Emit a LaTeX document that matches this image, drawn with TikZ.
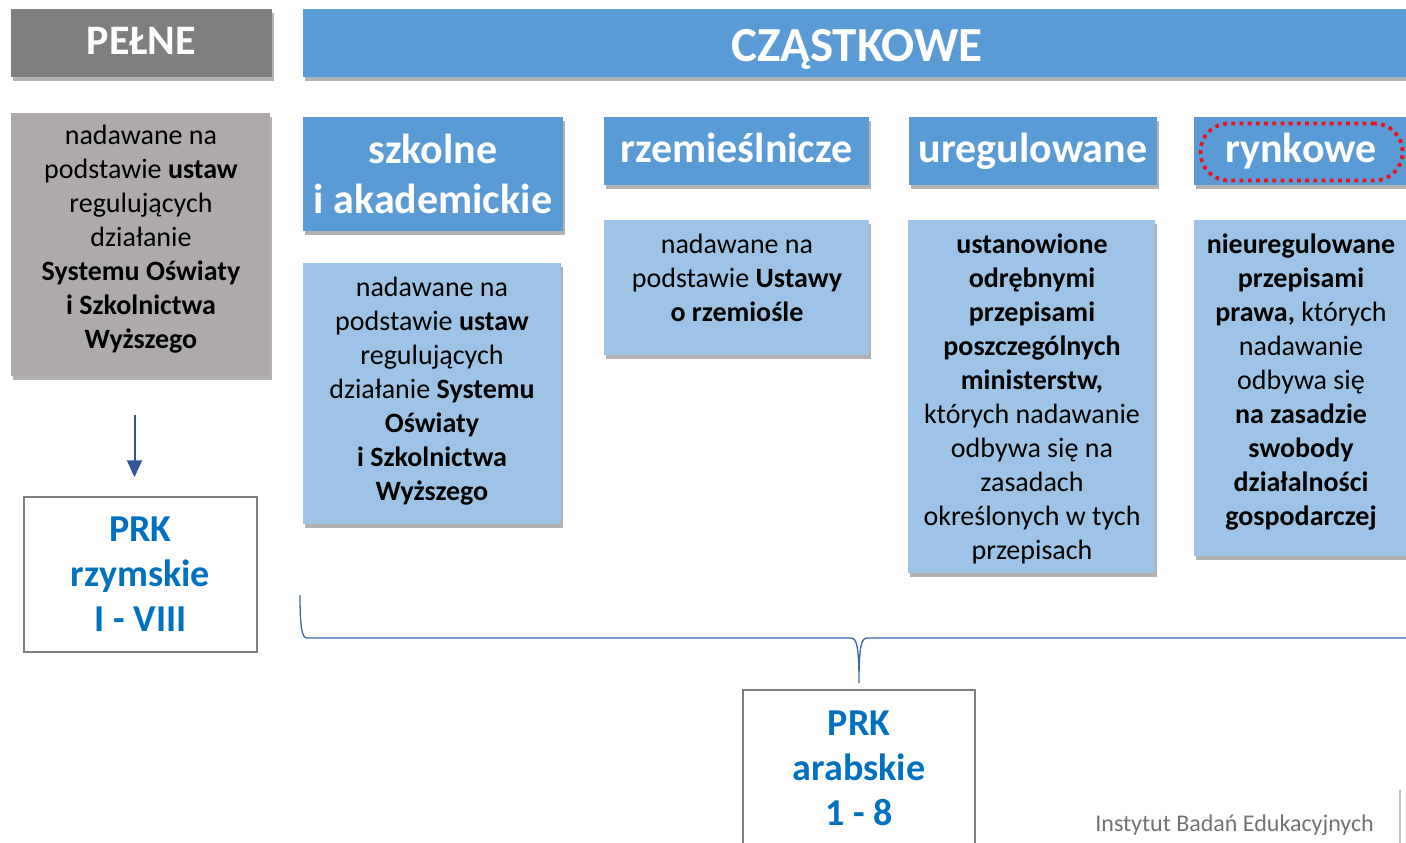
\documentclass[tikz,border=0pt]{standalone}
\usepackage{fontspec}
\setmainfont{Carlito}
\usetikzlibrary{shadows,arrows.meta,calc}
\definecolor{hdrblue}{HTML}{5B9BD5}
\definecolor{bodyblue}{HTML}{9DC3E6}
\definecolor{hdrgray}{HTML}{7F7F7F}
\definecolor{bodygray}{HTML}{AEAAAA}
\definecolor{prkblue}{HTML}{0070C0}
\definecolor{arrblue}{HTML}{2F5597}
\definecolor{bracecol}{HTML}{3F64AE}
\definecolor{redring}{HTML}{E8141B}
\definecolor{footgray}{HTML}{767171}
\tikzset{
  shad/.style={drop shadow={shadow xshift=2pt, shadow yshift=-4pt, opacity=0.3, fill=black}},
  box/.style={inner sep=0pt, outer sep=0pt, shad},
  hdr/.style={box, fill=hdrblue, text=white, font=\bfseries\fontsize{42}{50}\selectfont, align=center},
  onehdr/.style={hdr, text height=32pt, text depth=9pt},
  ghdr/.style={box, fill=hdrgray, text=white, font=\bfseries\fontsize{42}{50}\selectfont, text height=32pt, text depth=9pt},
  bbody/.style={box, fill=bodyblue},
  gbody/.style={box, fill=bodygray},
  btxt/.style={inner sep=0pt, align=center, font=\fontsize{28}{34}\selectfont},
  prkbox/.style={draw=hdrgray, line width=1.5pt, fill=white, inner sep=0pt, align=center,
     text=prkblue, font=\bfseries\fontsize{38}{45}\selectfont},
  ring/.style={draw=redring, line width=3.8pt, dash pattern=on 3.8pt off 4.4pt, rounded corners=28pt, inner sep=0pt},
  arr/.style={draw=arrblue, line width=2pt, -{Triangle[width=15pt,length=17pt]}},
  bracestyle/.style={draw=bracecol, line width=1.3pt},
}
\begin{document}
\begin{tikzpicture}[x=1pt,y=-1pt]
\useasboundingbox (0,0) rectangle (1406,843);
\clip (0,0) rectangle (1406,843);
% headers
\node[ghdr, minimum width=261pt, minimum height=68pt] (pel) at (141.5,43) {PEŁNE};
\node[hdr, minimum width=1108pt, minimum height=68pt, font=\bfseries\fontsize{49}{56}\selectfont, text height=44pt, text depth=6pt] (czas) at (857,43) {CZĄSTKOWE};
\node[hdr, minimum width=260pt, minimum height=114pt] (szk) at (433,174) {szkolne\\i akademickie};
\node[onehdr, minimum width=265pt, minimum height=68pt] (rze) at (736.5,151) {rzemieślnicze};
\node[onehdr, minimum width=248pt, minimum height=68pt] (ure) at (1033,151) {uregulowane};
\node[onehdr, minimum width=214pt, minimum height=68pt] (ryn) at (1301,151) {rynkowe};
\node[ring, minimum width=202pt, minimum height=57pt] (ringn) at (1301.5,152) {};
% bodies
\node[gbody, minimum width=259pt, minimum height=263pt] (pb) at (140.5,244.5) {};
\node[btxt] (pbt) at (141,239) {nadawane na\\podstawie \textbf{ustaw}\\regulujących\\działanie\\\textbf{Systemu Oświaty}\\\textbf{i Szkolnictwa}\\\textbf{Wyższego}};
\node[bbody, minimum width=258pt, minimum height=261pt] (sb) at (432,393.5) {};
\node[btxt] (sbt) at (432,391) {nadawane na\\podstawie \textbf{ustaw}\\regulujących\\działanie \textbf{Systemu}\\\textbf{Oświaty}\\\textbf{i Szkolnictwa}\\\textbf{Wyższego}};
\node[bbody, minimum width=265pt, minimum height=135pt] (rb) at (736.5,287.5) {};
\node[btxt] (rbt) at (737,278) {nadawane na\\podstawie \textbf{Ustawy}\\\textbf{o rzemiośle}};
\node[bbody, minimum width=247pt, minimum height=353pt] (ub) at (1031.5,396.5) {};
\node[btxt] (ubt) at (1032,399) {\textbf{ustanowione}\\\textbf{odrębnymi}\\\textbf{przepisami}\\\textbf{poszczególnych}\\\textbf{ministerstw,}\\których nadawanie\\odbywa się na\\zasadach\\określonych w tych\\przepisach};
\node[bbody, minimum width=214pt, minimum height=336pt] (yb) at (1301,388) {};
\node[btxt] (ybt) at (1301,382) {\textbf{nieuregulowane}\\\textbf{przepisami}\\\textbf{prawa,} których\\nadawanie\\odbywa się\\\textbf{na zasadzie}\\\textbf{swobody}\\\textbf{działalności}\\\textbf{gospodarczej}};
% PRK boxes
\node[prkbox, minimum width=233pt, minimum height=155pt] (prk1) at (140.5,574.5) {PRK\\rzymskie\\I - VIII};
\node[prkbox, minimum width=232pt, minimum height=156pt] (prk2) at (859,768) {PRK\\arabskie\\1 - 8};
% arrow
\draw[arr] ([xshift=-6pt,yshift=-39pt]pb.south) -- ([xshift=-6pt,yshift=19pt]prk1.north);
% brace
\coordinate (bl) at (300,595);
\coordinate (bt) at (859,683);
\coordinate (br) at (1410,638);
\draw[bracestyle] (bl) .. controls (300,628) and (302,638) .. (307,638) -- (851,638)
  .. controls (857,638) and (859,648) .. (bt)
  .. controls (859,648) and (861,638) .. (867,638) -- (br);
% footer
\node[anchor=east, inner sep=0pt, text=footgray, font=\fontsize{24}{28}\selectfont] (foot) at (1374,825) {Instytut Badań Edukacyjnych};
\coordinate (vl1) at (1400,790);
\coordinate (vl2) at (1400,843);
\draw[draw=black!25, line width=1.5pt] (vl1) -- (vl2);
\end{tikzpicture}
\end{document}
